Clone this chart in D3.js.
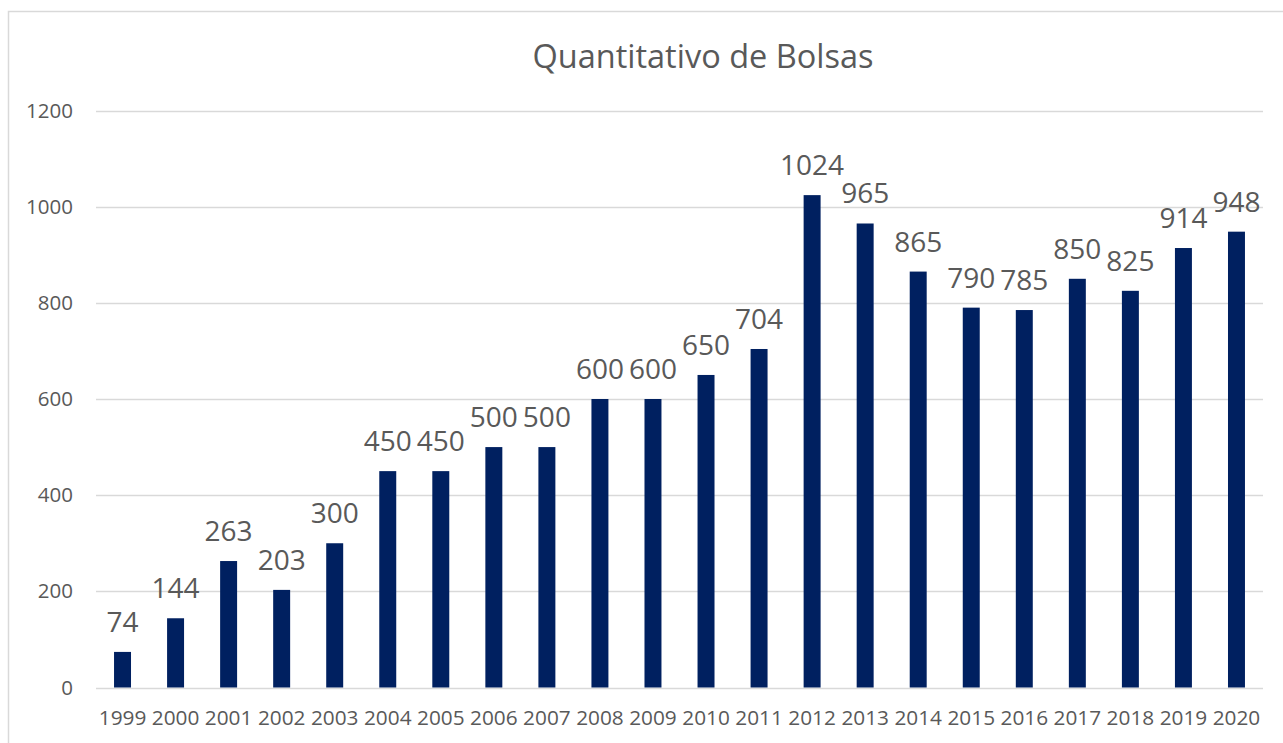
<!DOCTYPE html>
<html>
<head>
<meta charset="utf-8">
<script src="https://cdn.jsdelivr.net/npm/d3@7"></script>
<style>
  body { margin: 0; background: #fff; }
  svg text { font-family: "Open Sans", sans-serif; fill: #595959; }
</style>
</head>
<body>
<svg id="chart" width="1283" height="743"></svg>
<script>
const years = ["1999", "2000", "2001", "2002", "2003", "2004", "2005", "2006", "2007", "2008", "2009",
  "2010", "2011", "2012", "2013", "2014", "2015", "2016", "2017", "2018", "2019", "2020"];
const bolsas = [74, 144, 263, 203, 300, 450, 450, 500, 500, 600, 600,
  650, 704, 1024, 965, 865, 790, 785, 850, 825, 914, 948];
const yTicks = [0, 200, 400, 600, 800, 1000, 1200];

const svg = d3.select("#chart");

// chart frame
svg.append("rect")
  .attr("x", 8.5).attr("y", 11.5)
  .attr("width", 1300).attr("height", 760)
  .attr("fill", "none")
  .attr("stroke", "#d9d9d9")
  .attr("stroke-width", 1.5);

const x = d3.scaleBand().domain(years).range([96, 1263]).paddingInner(0.68).paddingOuter(0.34);
const y = d3.scaleLinear().domain([0, 1200]).range([687.5, 110.5]);

// gridlines
svg.append("g")
  .selectAll("line")
  .data(yTicks)
  .join("line")
  .attr("x1", 96).attr("x2", 1263)
  .attr("y1", d => Math.round(y(d)) + 0.5)
  .attr("y2", d => Math.round(y(d)) + 0.5)
  .attr("stroke", "#d9d9d9")
  .attr("stroke-width", 1.3);

// y axis labels
const yAxis = svg.append("g")
  .attr("transform", "translate(83,0)")
  .call(d3.axisLeft(y).tickValues(yTicks).tickFormat(d3.format("d")).tickSize(0).tickPadding(10));
yAxis.select(".domain").remove();
yAxis.selectAll("text").style("font-size", "20.5px").attr("fill", "#595959");

// x axis labels
const xAxis = svg.append("g")
  .attr("transform", "translate(0,687.5)")
  .call(d3.axisBottom(x).tickSize(0).tickPadding(23));
xAxis.select(".domain").remove();
xAxis.selectAll("text").style("font-size", "20.8px").attr("fill", "#595959");

// bars
svg.append("g")
  .selectAll("rect")
  .data(years)
  .join("rect")
  .attr("x", d => x(d))
  .attr("width", x.bandwidth())
  .attr("y", (d, i) => y(bolsas[i]))
  .attr("height", (d, i) => y(0) - y(bolsas[i]))
  .attr("fill", "#002060");

// data labels
svg.append("g")
  .selectAll("text")
  .data(years)
  .join("text")
  .attr("x", d => x(d) + x.bandwidth() / 2)
  .attr("y", (d, i) => y(bolsas[i]) - 20)
  .attr("text-anchor", "middle")
  .style("font-size", "28px")
  .text((d, i) => bolsas[i]);

// title
svg.append("text")
  .attr("x", 703)
  .attr("y", 68)
  .attr("text-anchor", "middle")
  .style("font-size", "32.5px")
  .text("Quantitativo de Bolsas");
</script>
</body>
</html>
